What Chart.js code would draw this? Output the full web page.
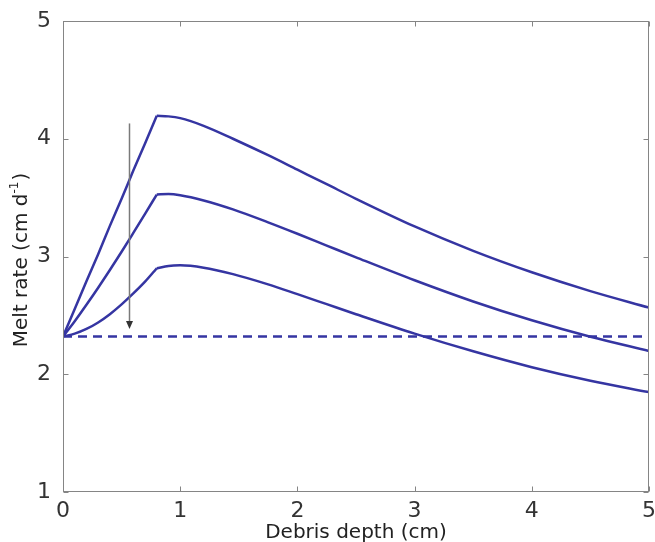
<!DOCTYPE html>
<html><head><meta charset="utf-8">
<script src="https://cdn.jsdelivr.net/npm/chart.js@4.4.0/dist/chart.umd.min.js"></script>
<style>html,body{margin:0;padding:0;background:#fff}</style>
</head><body>
<canvas id="c" width="655" height="542"></canvas>
<script>
// Debris depth (cm)
const depths = [0,0.1,0.2,0.3,0.4,0.5,0.6,0.7,0.8,0.9,1.0,1.2,1.45,1.75,2.0,2.25,2.5,3.0,3.5,4.0,4.5,5.0];
// Melt rate (cm d-1) for three curves (top to bottom)
const meltHigh = [2.32,2.555,2.79,3.02,3.26,3.49,3.73,3.96,4.195,4.19,4.175,4.11,4.0,3.86,3.737,3.614,3.49,3.255,3.048,2.866,2.706,2.566];
const meltMid  = [2.32,2.45,2.59,2.735,2.885,3.04,3.20,3.362,3.526,3.53,3.52,3.476,3.40,3.29,3.193,3.093,2.993,2.798,2.618,2.458,2.318,2.198];
const meltLow  = [2.32,2.345,2.385,2.44,2.51,2.593,2.686,2.786,2.90,2.92,2.925,2.905,2.85,2.763,2.68,2.595,2.51,2.345,2.195,2.06,1.945,1.848];
// Depth at which each curve has its kink
const kinkDepth = 0.8;
// Clean-ice melt rate (dashed reference)
const cleanIceX = [0,5];
const cleanIceY = [2.32,2.32];
// Arrow (x position, start and end melt rate)
const arrowX = 0.56;
const arrowFrom = 4.13;
const arrowTo = 2.385;
// Axis ticks
const xTicks = [0,1,2,3,4,5];
const yTicks = [1,2,3,4,5];

const lineColor = '#3535a2';
const toPts = (xs, ys) => xs.map((v,i)=>({x:v,y:ys[i]}));
const k = depths.indexOf(kinkDepth);

const framePlugin = {
  id:'frame',
  afterDraw(chart){
    const {ctx, chartArea:a, scales:{x,y}} = chart;
    ctx.save();
    // arrow
    const ax = Math.round(x.getPixelForValue(arrowX))+0.5;
    const ay1 = y.getPixelForValue(arrowFrom);
    const ay2 = y.getPixelForValue(arrowTo);
    ctx.strokeStyle='#7a7a7a'; ctx.lineWidth=1.5;
    ctx.beginPath(); ctx.moveTo(ax, ay1); ctx.lineTo(ax, ay2-6); ctx.stroke();
    ctx.fillStyle='#333';
    ctx.beginPath(); ctx.moveTo(ax-3.5, ay2-8); ctx.lineTo(ax+3.5, ay2-8); ctx.lineTo(ax, ay2); ctx.closePath(); ctx.fill();
    // frame
    ctx.strokeStyle='#858585'; ctx.lineWidth=1;
    const L=Math.round(a.left)+0.5, R=Math.round(a.right)-0.5, T=Math.round(a.top)+0.5, B=Math.round(a.bottom)-0.5;
    ctx.strokeRect(L,T,R-L,B-T);
    ctx.beginPath();
    xTicks.forEach(v=>{const p=Math.round(x.getPixelForValue(v))+0.5; ctx.moveTo(p,B); ctx.lineTo(p,B-5); ctx.moveTo(p,T); ctx.lineTo(p,T+5);});
    yTicks.forEach(v=>{const p=Math.round(y.getPixelForValue(v))+0.5; ctx.moveTo(L,p); ctx.lineTo(L+5,p); ctx.moveTo(R,p); ctx.lineTo(R-5,p);});
    ctx.stroke();
    // y title
    ctx.fillStyle='#222';
    ctx.translate(22, 260);
    ctx.rotate(-Math.PI/2);
    ctx.textBaseline='middle';
    ctx.textAlign='left';
    const f1='20px "DejaVu Sans"', f2='12px "DejaVu Sans"';
    ctx.font=f1; const t1='Melt rate (cm d'; const w1=ctx.measureText(t1).width;
    const t3=')'; const w3=ctx.measureText(t3).width;
    ctx.font=f2; const t2='-1'; const w2=ctx.measureText(t2).width;
    let sx = -(w1+w2+w3+1)/2;
    ctx.font=f1; ctx.fillText(t1, sx, 0); sx+=w1;
    ctx.font=f2; ctx.fillText(t2, sx, -7); sx+=w2+1;
    ctx.font=f1; ctx.fillText(t3, sx, 0);
    ctx.restore();
  }
};

const ds = (data, dash) => ({data, borderColor:lineColor, borderWidth:2.5, pointRadius:0, cubicInterpolationMode:'monotone', fill:false, borderDash:dash||[], borderCapStyle:'butt', borderJoinStyle:'round'});
const curve = ys => [ds(toPts(depths.slice(0,k+1), ys.slice(0,k+1))), ds(toPts(depths.slice(k), ys.slice(k)))];

new Chart(document.getElementById('c'), {
  type:'line',
  data:{datasets:[
    ...curve(meltHigh),
    ...curve(meltMid),
    ...curve(meltLow),
    ds(toPts(cleanIceX, cleanIceY), [9,6])
  ]},
  options:{
    responsive:false, animation:false, devicePixelRatio:1,
    layout:{padding:{left:0,right:6,top:21,bottom:0}},
    plugins:{legend:{display:false}, tooltip:{enabled:false}},
    scales:{
      x:{type:'linear', min:0, max:5, afterFit(s){s.height=50; s.paddingLeft=0; s.paddingRight=0;},
        afterBuildTicks(s){s.ticks=xTicks.map(v=>({value:v}));},
        grid:{display:false}, border:{display:false},
        ticks:{padding:-2, color:'#333', font:{family:'DejaVu Sans', size:22, lineHeight:1.2}, maxRotation:0},
        title:{display:true, text:'Debris depth (cm)', color:'#222', font:{family:'DejaVu Sans', size:20, lineHeight:1}, padding:{top:0,bottom:-1}}
      },
      y:{type:'linear', min:1, max:5, afterFit(s){s.width=63; s.paddingTop=0; s.paddingBottom=0;},
        afterBuildTicks(s){s.ticks=yTicks.map(v=>({value:v}));},
        grid:{display:false}, border:{display:false},
        ticks:{padding:4, color:'#333', font:{family:'DejaVu Sans', size:22}}
      }
    }
  },
  plugins:[framePlugin]
});
</script>
</body></html>
